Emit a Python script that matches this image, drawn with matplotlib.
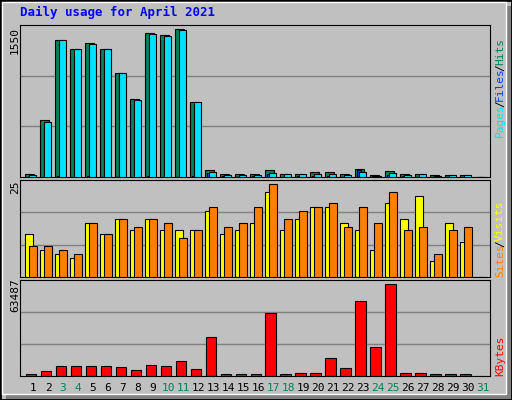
import matplotlib
matplotlib.use("Agg")
import matplotlib.pyplot as plt
import numpy as np

days = list(range(1, 32))
weekend = [3, 4, 10, 11, 17, 18, 24, 25, 31]
hits = [27, 578, 1394, 1309, 1363, 1302, 1057, 792, 1465, 1448, 1506, 762, 68, 34, 34, 34, 68, 34, 34, 48, 48, 34, 78, 24, 61, 34, 34, 24, 24, 24, 0]
files = [24, 564, 1394, 1309, 1353, 1302, 1057, 782, 1455, 1442, 1500, 762, 48, 24, 24, 24, 37, 34, 34, 34, 34, 24, 48, 12, 37, 24, 34, 12, 24, 24, 0]
pages = [5, 4, 6, 4, 6, 5, 4, 4, 6, 5, 5, 6, 37, 6, 5, 6, 30, 5, 6, 8, 8, 5, 68, 10, 20, 6, 5, 4, 5, 5, 0]
visits = [11, 7, 6, 5, 14, 11, 15, 12, 15, 12, 12, 12, 17, 11, 12, 14, 22, 12, 15, 18, 18, 14, 12, 7, 19, 15, 21, 4, 14, 9, 0]
sites = [8, 8, 7, 6, 14, 11, 15, 13, 15, 14, 10, 12, 18, 13, 14, 18, 24, 15, 17, 18, 19, 13, 18, 14, 22, 12, 13, 6, 12, 13, 0]
kbytes = [1100, 3086, 6392, 6392, 6392, 6392, 5730, 3747, 7053, 6392, 9698, 4408, 25567, 1100, 1100, 1100, 41435, 1100, 1763, 1763, 11681, 5069, 49370, 18954, 60830, 1763, 1763, 1100, 1100, 1100, 0]
max_hits, max_visits, max_kb = 1550, 25, 63487

W, H = 512, 400
fig = plt.figure(figsize=(W/100, H/100), dpi=100, facecolor="#C0C0C0")
mono = "DejaVu Sans Mono"
# outer 3D border
fig.patches.append(plt.Rectangle((6/W, 0), (W-6)/W, 6/H, transform=fig.transFigure, fc="#808080", ec="none"))
fig.patches.append(plt.Rectangle(((W-6)/W, 0), 6/W, (H-6)/H, transform=fig.transFigure, fc="#808080", ec="none"))
fig.patches.append(plt.Rectangle((0, 0), 1, 1, transform=fig.transFigure, fill=False, ec="#000000", lw=2))
fig.patches.append(plt.Rectangle((2/W, 6/H), (W-8)/W, (H-8)/H, transform=fig.transFigure, fill=False, ec="#FFFFFF", lw=1))

def mkax(top, bottom):
    ax = fig.add_axes([20/W, 1-bottom/H, 470/W, (bottom-top)/H])
    ax.set_facecolor("#C0C0C0")
    ax.set_xlim(0.133, 31.467)
    ax.set_xticks([])
    ax.set_yticks([])
    for s in ax.spines.values():
        s.set_color("black")
    return ax

x = np.array(days)
ax1 = mkax(25, 177)
ax1.set_ylim(0, max_hits)
for g in (max_hits/3, 2*max_hits/3):
    ax1.axhline(g, color="#808080", lw=1, zorder=0)
ax1.bar(x-0.55, hits, width=0.6, align="edge", color="#00805C", ec="black", lw=0.8, zorder=2)
ax1.bar(x-0.4, pages, width=0.3, align="edge", color="#0040FF", ec="black", lw=0.8, zorder=3)
ax1.bar(x-0.27, files, width=0.5, align="edge", color="#00E0FF", ec="black", lw=0.8, zorder=4)

ax2 = mkax(180, 277)
ax2.set_ylim(0, max_visits)
for g in (max_visits/3, 2*max_visits/3):
    ax2.axhline(g, color="#808080", lw=1, zorder=0)
ax2.bar(x-0.53, visits, width=0.53, align="edge", color="#FFFF00", ec="black", lw=0.8, zorder=2)
ax2.bar(x-0.27, sites, width=0.52, align="edge", color="#FF8000", ec="black", lw=0.8, zorder=3)

ax3 = mkax(280, 376)
ax3.set_ylim(0, max_kb)
for g in (max_kb/3, 2*max_kb/3):
    ax3.axhline(g, color="#808080", lw=1, zorder=0)
ax3.bar(x-0.5, kbytes, width=0.73, align="edge", color="#FF0000", ec="black", lw=0.8, zorder=2)

fig.text(20/W, 1-12/H, "Daily usage for April 2021", color="#0000FF", fontsize=9, fontweight="bold", family=mono, va="center")
for txt, yc in ((str(max_hits), 40), (str(max_visits), 187), (str(max_kb), 295)):
    fig.text(15/W, 1-yc/H, txt, rotation=90, fontsize=8, family=mono, ha="center", va="center")

def rlabel(parts, ybottom):
    y = ybottom
    for t, c in parts:
        fig.text(500/W, 1-y/H, t, rotation=90, fontsize=8, family=mono, color=c, ha="center", va="bottom")
        y -= len(t) * 6.0
rlabel([("Pages", "#00E0FF"), ("/", "black"), ("Files", "#0040FF"), ("/", "black"), ("Hits", "#00805C")], 137)
rlabel([("Sites", "#FF8000"), ("/", "black"), ("Visits", "#FFFF00")], 277)
rlabel([("KBytes", "#FF0000")], 376)

for d in days:
    fig.text((20 + (d - 0.133) / 31.334 * 470)/W, 1-388/H, str(d), fontsize=8, family=mono,
             color="#00805C" if d in weekend else "black", ha="center", va="center")

fig.savefig("out.png", dpi=100, facecolor=fig.get_facecolor())
